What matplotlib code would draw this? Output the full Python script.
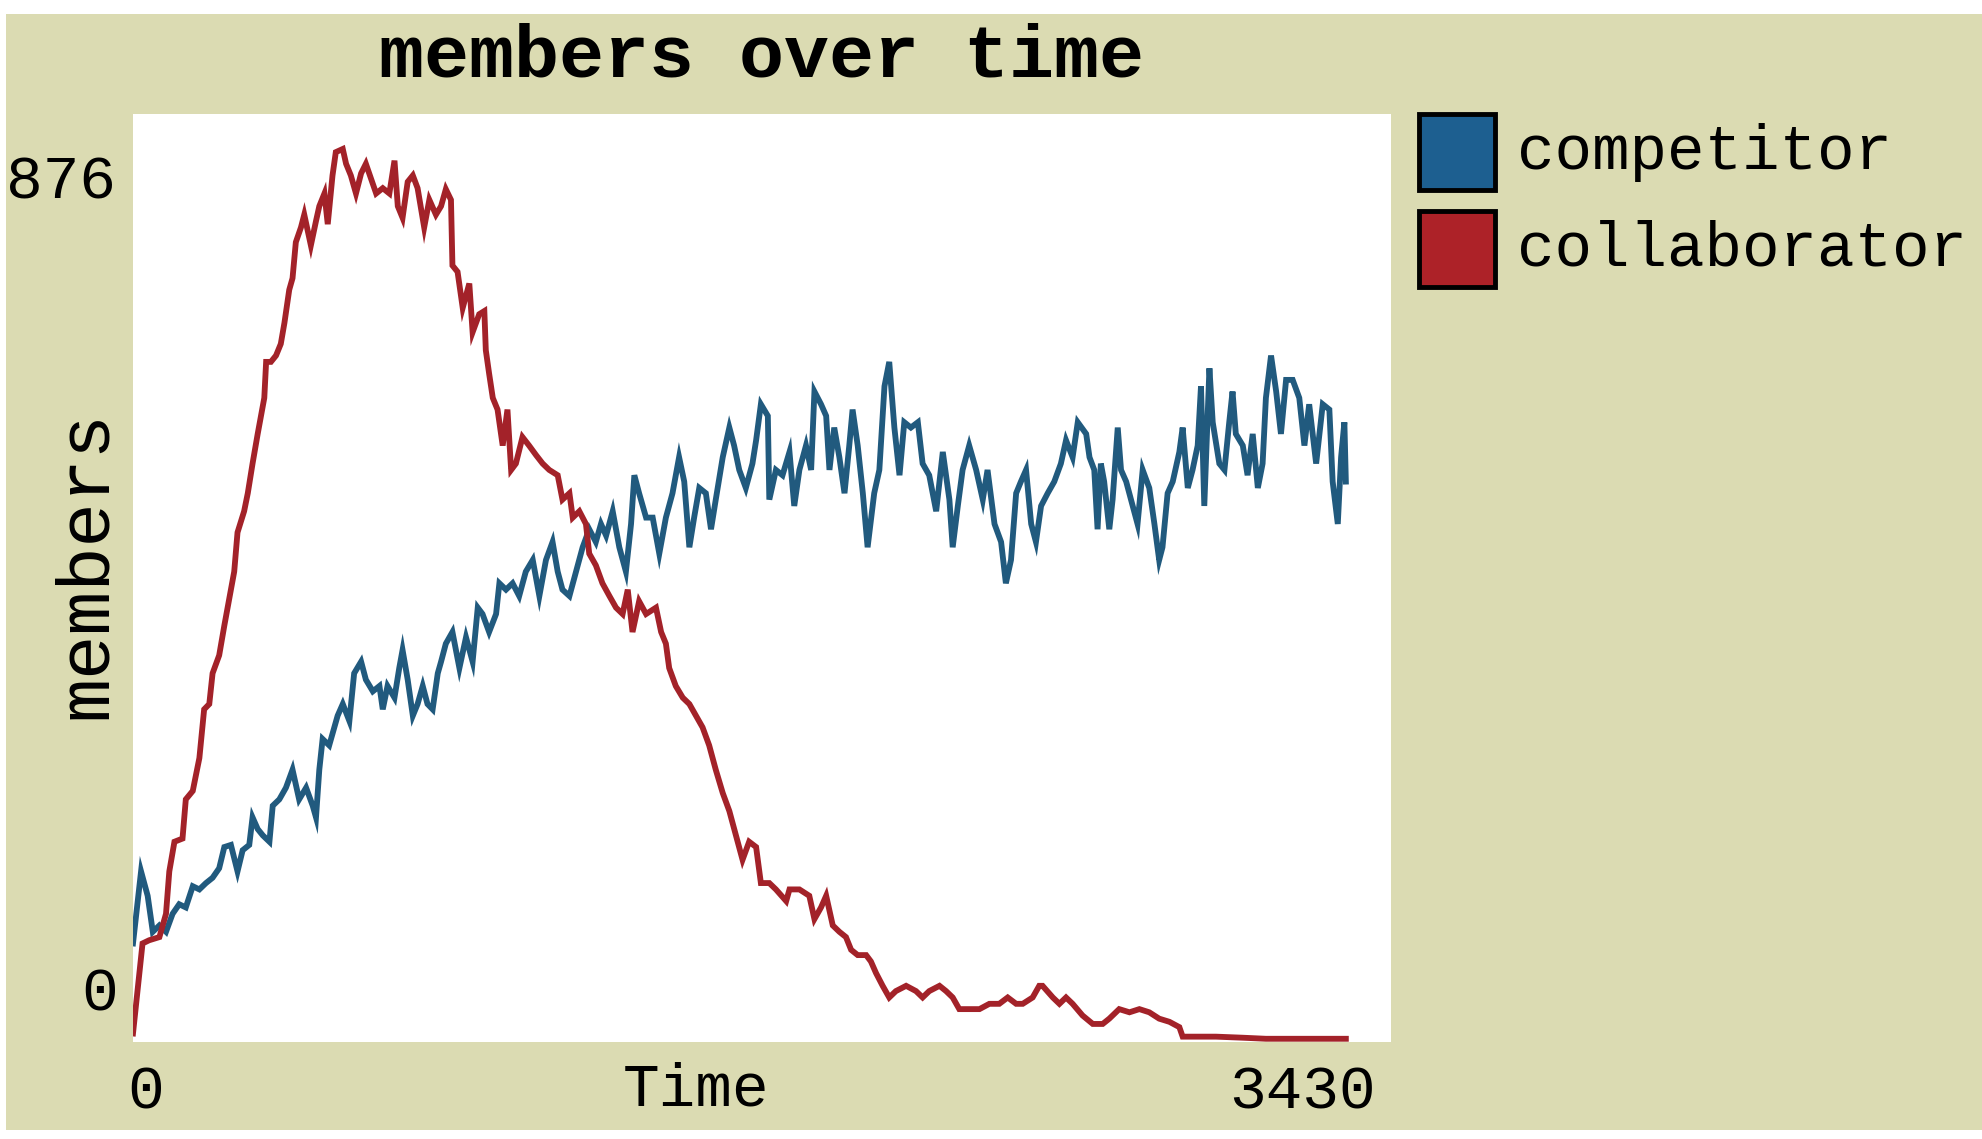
import matplotlib
matplotlib.use("Agg")
from matplotlib import pyplot as plt
from matplotlib.patches import Rectangle

# values (time, members)
coll_time = [0, 26, 44, 72, 90, 99, 113, 135, 144, 163, 181, 194, 208, 217, 235, 249, 267, 276, 285, 303,
             313, 326, 340, 349, 358, 363, 376, 390, 403, 413, 426, 435, 444, 458, 467, 485, 499, 508, 522, 531,
             544, 553, 572, 581, 594, 608, 622, 635, 649, 663, 681, 699, 713, 722, 735, 749, 763, 776, 794, 808,
             826, 840, 853, 867, 871, 885, 899, 917, 926, 944, 958, 962, 971, 981, 994, 1008, 1021, 1031, 1044, 1062,
             1080, 1099, 1117, 1135, 1158, 1171, 1190, 1199, 1217, 1235, 1244, 1262, 1280, 1299, 1317, 1335, 1349,
             1362, 1380, 1399, 1426, 1440, 1453, 1462, 1480, 1499, 1517, 1535, 1553, 1571, 1589, 1608, 1626, 1644,
             1662, 1680, 1699, 1712, 1735, 1753, 1781, 1790, 1817, 1844, 1858, 1876, 1890, 1908, 1926, 1944, 1958,
             1976, 1999, 2012, 2026, 2044, 2062, 2080, 2108, 2135, 2153, 2171, 2199, 2217, 2235, 2253, 2280, 2308,
             2335, 2362, 2385, 2408, 2426, 2453, 2471, 2480, 2508, 2526, 2544, 2562, 2589, 2617, 2644, 2662, 2689,
             2717, 2744, 2771, 2798, 2826, 2853, 2862, 2953, 3026, 3089, 3180, 3307]
coll_members = [8, 93, 96, 99, 121, 161, 189, 192, 229, 237, 268, 314, 319, 348, 365, 393, 427, 444, 481, 501,
                518, 546, 574, 591, 608, 642, 642, 648, 659, 679, 710, 721, 755, 769, 781, 752, 775, 789, 801, 772,
                818, 840, 843, 829, 818, 801, 820, 829, 815, 801, 806, 801, 832, 789, 778, 812, 818, 806, 769, 795,
                781, 789, 805, 795, 733, 727, 693, 716, 670, 687, 690, 653, 631, 608, 597, 563, 597, 540, 546, 571,
                563, 554, 546, 540, 535, 512, 518, 495, 501, 489, 461, 450, 433, 421, 410, 404, 427,
                387, 416, 404, 410, 387, 376, 353, 336, 325, 319, 308, 297, 280, 257, 235, 218, 195,
                172, 189, 184, 150, 150, 144, 133, 144, 144, 138, 116, 127, 138, 110, 104, 99, 87,
                82, 82, 76, 65, 53, 42, 48, 53, 48, 42, 48, 53, 48, 42, 31, 31, 31,
                36, 36, 42, 36, 36, 42, 53, 53, 42, 36, 42, 36, 25, 17, 17, 22, 31,
                28, 31, 28, 22, 19, 14, 5, 5, 4, 3, 3, 3]

comp_time = [0, 22, 40, 54, 72, 90, 108, 126, 144, 163, 181, 199, 217, 235, 249, 267, 285, 299, 317, 326,
             340, 354, 372, 381, 399, 417, 435, 453, 472, 490, 499, 508, 517, 535, 549, 558, 572, 590, 603, 622,
             635, 654, 672, 681, 694, 713, 726, 735, 749, 763, 776, 790, 803, 817, 831, 840, 853, 871, 890, 908,
             926, 940, 953, 971, 990, 999, 1017, 1035, 1053, 1071, 1090, 1108, 1126, 1144, 1158, 1171, 1190, 1208,
             1226, 1244, 1262, 1276, 1290, 1308, 1326, 1344, 1358, 1367, 1380, 1399, 1417, 1435, 1453, 1471, 1489,
             1503, 1517, 1530, 1544, 1562, 1576, 1589, 1608, 1626, 1639, 1653, 1671, 1689, 1699, 1712, 1731, 1735,
             1753, 1771, 1790, 1803, 1817, 1835, 1849, 1858, 1876, 1890, 1899, 1912, 1926, 1940, 1953, 1962, 1976,
             1990, 2003, 2021, 2035, 2049, 2062, 2076, 2090, 2103, 2121, 2140, 2153, 2171, 2190, 2208, 2226, 2235,
             2249, 2262, 2280, 2299, 2317, 2330, 2349, 2367, 2380, 2394, 2408, 2421, 2435, 2449, 2462, 2476, 2494,
             2512, 2530, 2544, 2562, 2576, 2599, 2608, 2621, 2630, 2639, 2648, 2662, 2671, 2685, 2694, 2708, 2726,
             2739, 2753, 2771, 2785, 2798, 2807, 2821, 2835, 2853, 2862, 2876, 2889, 2903, 2912, 2921, 2935, 2944,
             2962, 2976, 2989, 2998, 3007, 3026, 3039, 3053, 3067, 3080, 3089, 3103, 3117, 3130, 3144, 3162, 3180,
             3194, 3207, 3226, 3244, 3262, 3271, 3285, 3294, 3303, 3307]
comp_members = [93, 161, 138, 104, 110, 104, 121, 130, 127, 147, 144, 150, 155, 164, 184, 186, 161, 181, 186, 212,
                201, 195, 189, 223, 229, 240, 257, 229, 240, 223, 212, 257, 286, 280, 297, 308, 319, 303, 348, 359,
                342, 331, 336, 314, 336, 325, 353, 370, 342, 308, 319, 336, 319, 314, 348, 359, 376, 387, 353, 382,
                359, 410, 404, 387, 404, 433, 427, 433, 421, 444, 455, 421, 455, 472, 444, 427, 421, 444,
                467, 484, 472, 489, 478, 501, 467, 444, 489, 535, 518, 495, 495, 461, 495, 518, 552,
                529, 467, 495, 523, 518, 484, 512, 552, 580, 563, 540, 523, 546, 568, 602, 591, 512,
                540, 535, 557, 506, 540, 563, 540, 614, 602, 591, 540, 580, 552, 518, 563, 597, 563,
                518, 467, 518, 540, 619, 642, 580, 535, 585, 580, 585, 546, 535, 501, 557, 512, 467,
                506, 540, 563, 540, 512, 540, 489, 472, 433, 455, 518, 529, 540, 489, 472, 506, 518,
                529, 546, 568, 552, 585, 574, 552, 540, 484, 546, 529, 484, 512, 580, 540, 529, 506,
                489, 540, 523, 489, 455, 467, 518, 529, 557, 580, 523, 540, 563, 619, 506, 636, 585,
                546, 540, 585, 614, 574, 563, 535, 574, 523, 546, 608, 648, 614, 574, 625, 625, 608,
                563, 602, 546, 602, 597, 529, 489, 552, 585, 529]

series_names = ["competitor", "collaborator"]
series_colors = ["#215a7e", "#a32229"]
swatch_colors = ["#1d5f90", "#ad2228"]
x_max = 3430
y_max = 876

BG = "#dbdbb2"
FONT = "Liberation Mono"


def main():
    fig = plt.figure(figsize=(19.82, 11.39), dpi=100, facecolor="white")
    fig.patches.append(Rectangle((0.003, 0.008), 0.997, 0.98, transform=fig.transFigure,
                                 facecolor=BG, edgecolor="none", zorder=-10))

    ax = fig.add_axes([0.0671, 0.0852, 0.6347, 0.8147])
    ax.set_zorder(1)
    ax.set_facecolor("white")
    for s in ax.spines.values():
        s.set_visible(False)
    ax.set_xticks([])
    ax.set_yticks([])
    ax.set_xlim(0, x_max)
    ax.set_ylim(0, y_max)

    ax.plot(comp_time, comp_members, color=series_colors[0], lw=4.2, solid_joinstyle="miter")
    ax.plot(coll_time, coll_members, color=series_colors[1], lw=4.2, solid_joinstyle="miter")

    # labels, NetLogo style
    fig.text(0.384, 0.950, "members over time", ha="center", va="center",
             family=FONT, weight="bold", fontsize=54)
    fig.text(0.0308, 0.8393, str(y_max), ha="center", va="center", family=FONT, fontsize=44)
    fig.text(0.050, 0.1264, "0", ha="center", va="center", family=FONT, fontsize=44)
    fig.text(0.0434, 0.504, "members", ha="center", va="center", rotation=90,
             family=FONT, fontsize=53)
    fig.text(0.0732, 0.0404, "0", ha="center", va="center", family=FONT, fontsize=44)
    fig.text(0.351, 0.043, "Time", ha="center", va="center", family=FONT, fontsize=44)
    fig.text(0.657, 0.0404, str(x_max), ha="center", va="center", family=FONT, fontsize=44)

    # legend swatches
    for i, (name, col) in enumerate(zip(series_names, swatch_colors)):
        y0 = 0.8332 - i * 0.0852
        fig.patches.append(Rectangle((0.716, y0), 0.0383, 0.0667, transform=fig.transFigure,
                                     facecolor=col, edgecolor="black", lw=3.5, zorder=2))
        fig.text(0.7654, y0 + 0.0333, name, ha="left", va="center", family=FONT, fontsize=45)

    fig.savefig("out.png", dpi=100, facecolor=fig.get_facecolor())


if __name__ == '__main__':
    main()
